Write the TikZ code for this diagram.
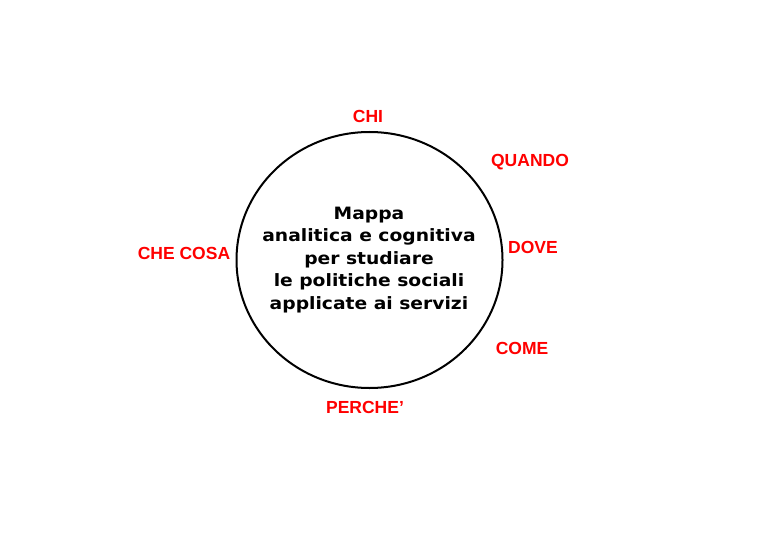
\documentclass[tikz,border=0pt]{standalone}
\usepackage{fontspec}
\setmainfont{Liberation Sans}
\newfontfamily\centrefont[FakeStretch=1.1]{DejaVu Sans}
\usetikzlibrary{positioning}

\tikzset{
    label red/.style={text=red, font=\bfseries\fontsize{17.5}{20}\selectfont, inner sep=0pt},
    centre text/.style={align=center, font=\centrefont\bfseries\fontsize{17}{22.5}\selectfont}
}

\begin{document}
\begin{tikzpicture}[x=1pt, y=-1pt]
                        \useasboundingbox (0,0) rectangle (781,540);
                        \draw[black, line width=2pt] (369.5,260) ellipse [x radius=133, y radius=128];
                        \node[centre text] (map) at (369,260) {Mappa\\analitica e cognitiva\\per studiare\\le politiche sociali\\applicate ai servizi};
                        \node[label red] (chi) at (368,116) {CHI};
                        \node[label red] (quando) at (530,162) {QUANDO};
                        \node[label red] (dove) at (533,247) {DOVE};
                        \node[label red] (come) at (522,348) {COME};
                        \node[label red] (perche) at (365,407) {PERCHE'};
                        \node[label red] (checosa) at (184,253) {CHE COSA};
                    \end{tikzpicture}
\end{document}
